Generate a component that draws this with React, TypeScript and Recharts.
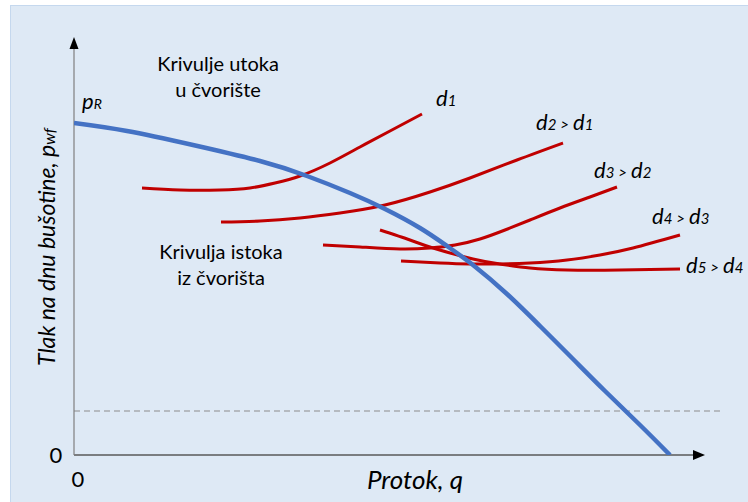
import React from "react";
import { LineChart, Line, XAxis, YAxis, ReferenceLine } from "recharts";

// inflow curve (IPR) and outflow curves for each tubing diameter, q / p in plot units
const ipr = [
  { q: 0, p: 332 }, { q: 53, p: 324 }, { q: 119, p: 310 }, { q: 186, p: 294 },
  { q: 233, p: 279 }, { q: 276, p: 262 }, { q: 311, p: 246 }, { q: 346, p: 227 },
  { q: 373, p: 209 }, { q: 399, p: 190 }, { q: 433, p: 161 }, { q: 466, p: 129 },
  { q: 499, p: 96 }, { q: 531, p: 64 }, { q: 566, p: 30 }, { q: 596, p: 0 }
];
const d1 = [
  { q: 68, p: 267 }, { q: 106, p: 265 }, { q: 146, p: 265 }, { q: 176, p: 267 },
  { q: 201, p: 272 }, { q: 226, p: 279 }, { q: 256, p: 292 }, { q: 286, p: 308 },
  { q: 316, p: 324 }, { q: 348, p: 341 }
];
const d2 = [
  { q: 147, p: 233 }, { q: 186, p: 234 }, { q: 226, p: 237 }, { q: 266, p: 242 },
  { q: 311, p: 250 }, { q: 356, p: 263 }, { q: 396, p: 277 }, { q: 443, p: 295 }, { q: 489, p: 312 }
];
const d3 = [
  { q: 249, p: 210 }, { q: 286, p: 208 }, { q: 326, p: 206 }, { q: 356, p: 207 },
  { q: 381, p: 210 }, { q: 406, p: 216 }, { q: 431, p: 225 }, { q: 456, p: 235 },
  { q: 486, p: 247 }, { q: 516, p: 258 }, { q: 543, p: 268 }
];
const d4 = [
  { q: 327, p: 194 }, { q: 366, p: 192 }, { q: 396, p: 191 }, { q: 426, p: 191 },
  { q: 456, p: 192 }, { q: 493, p: 195 }, { q: 526, p: 200 }, { q: 559, p: 207 }, { q: 606, p: 220 }
];
const d5 = [
  { q: 306, p: 225 }, { q: 336, p: 215 }, { q: 359, p: 207 }, { q: 399, p: 196 },
  { q: 426, p: 191 }, { q: 456, p: 187 }, { q: 493, p: 185 }, { q: 546, p: 185 }, { q: 606, p: 186 }
];
const outflow = [d1, d2, d3, d4, d5];

const minPressure = 44;
const qAxisEnd = 631;
const pAxisEnd = 418;

const W = 748;
const H = 502;
const FONT = "Lato, 'Open Sans', sans-serif";

const XArrow = (props: any) => {
  const { x1, y1, x2, y2 } = props;
  return (
    <g>
      <line x1={x1} y1={y1} x2={x2 - 10} y2={y2} stroke="#595959" strokeWidth={1.5} />
      <polygon points={`${x2},${y2} ${x2 - 12},${y2 - 5} ${x2 - 12},${y2 + 5}`} fill="#000" />
    </g>
  );
};

const YArrow = (props: any) => {
  const { x1, y1, x2, y2 } = props;
  const top = Math.min(y1, y2);
  const bottom = Math.max(y1, y2);
  return (
    <g>
      <line x1={x1} y1={bottom} x2={x2} y2={top + 10} stroke="#7f7f7f" strokeWidth={1.2} />
      <polygon points={`${x1},${top} ${x1 - 4.5},${top + 12} ${x1 + 4.5},${top + 12}`} fill="#000" />
    </g>
  );
};

function DLabel({ x, y, n, m }: { x: number; y: number; n: string; m?: string }) {
  return (
    <text x={x} y={y} fontFamily={FONT} fontStyle="italic" fill="#000">
      <tspan fontSize={22}>d</tspan>
      <tspan fontSize={15}>{n}</tspan>
      {m && (
        <>
          <tspan fontSize={15} dx={4}>{">"}</tspan>
          <tspan fontSize={22} dx={4}>d</tspan>
          <tspan fontSize={15}>{m}</tspan>
        </>
      )}
    </text>
  );
}

export default function App() {
  return (
    <div style={{ position: "absolute", left: 0, top: 0, width: W, height: H, background: "#fff", overflow: "hidden" }}>
      <div
        style={{
          position: "absolute", left: 10, top: 5, width: W, height: H,
          background: "#dee9f5", borderLeft: "1.5px solid #c5d8ee", borderTop: "1.5px solid #c5d8ee"
        }}
      />
      <div style={{ position: "absolute", left: 0, top: 0 }}>
        <LineChart width={W} height={H} margin={{ top: 37, right: 26, bottom: 47, left: 74 }}>
          <XAxis type="number" dataKey="q" domain={[0, 648]} hide allowDataOverflow />
          <YAxis type="number" dataKey="p" domain={[0, pAxisEnd]} hide allowDataOverflow />
          <ReferenceLine
            segment={[{ x: 0, y: minPressure }, { x: 648, y: minPressure }]}
            stroke="#8c8c8c"
            strokeWidth={1.2}
            strokeDasharray="6 4"
          />
          <ReferenceLine segment={[{ x: 0, y: 0 }, { x: qAxisEnd, y: 0 }]} shape={XArrow} />
          <ReferenceLine segment={[{ x: 0, y: 0 }, { x: 0, y: pAxisEnd }]} shape={YArrow} />
          {outflow.map((d, i) => (
            <Line
              key={i}
              data={d}
              dataKey="p"
              type="natural"
              stroke="#c00000"
              strokeWidth={3}
              dot={false}
              isAnimationActive={false}
            />
          ))}
          <Line
            data={ipr}
            dataKey="p"
            type="natural"
            stroke="#4472c4"
            strokeWidth={4.5}
            dot={false}
            isAnimationActive={false}
          />
        </LineChart>
      </div>
      <svg width={W} height={H} style={{ position: "absolute", left: 0, top: 0, pointerEvents: "none" }}>
        <g fontFamily={FONT} fontSize={20} fill="#000" textAnchor="middle">
          <text x={218} y={71}>Krivulje utoka</text>
          <text x={218} y={97}>u čvorište</text>
          <text x={221} y={259}>Krivulja istoka</text>
          <text x={221} y={285}>iz čvorišta</text>
        </g>
        <text x={82} y={109} fontFamily={FONT} fontStyle="italic" fill="#000">
          <tspan fontSize={22}>p</tspan>
          <tspan fontSize={14}>R</tspan>
        </text>
        <DLabel x={436} y={106} n="1" />
        <DLabel x={536} y={130} n="2" m="1" />
        <DLabel x={594} y={178} n="3" m="2" />
        <DLabel x={652} y={224} n="4" m="3" />
        <DLabel x={686} y={273} n="5" m="4" />
        <text x={56} y={463} fontFamily={FONT} fontSize={22} textAnchor="middle">0</text>
        <text x={78} y={487} fontFamily={FONT} fontSize={22} textAnchor="middle">0</text>
        <text x={415} y={489} fontFamily={FONT} fontSize={26} fontStyle="italic" textAnchor="middle">Protok, q</text>
        <text
          transform="translate(55, 247) rotate(-90)"
          fontFamily={FONT}
          fontStyle="italic"
          textAnchor="middle"
        >
          <tspan fontSize={23}>Tlak na dnu bušotine, p</tspan>
          <tspan fontSize={16}>wf</tspan>
        </text>
      </svg>
    </div>
  );
}
